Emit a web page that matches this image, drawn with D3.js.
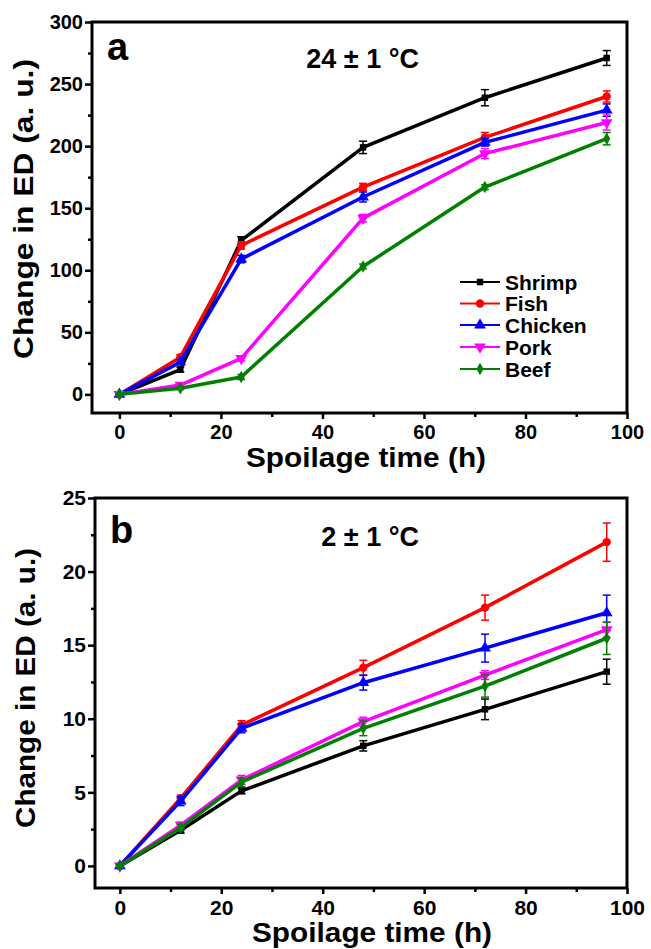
<!DOCTYPE html>
<html>
<head>
<meta charset="utf-8">
<script src="https://cdn.jsdelivr.net/npm/d3@7"></script>
<style>
  body { margin: 0; background: #fff; }
  text { font-family: "Liberation Sans", Arial, sans-serif; font-weight: bold; }
</style>
</head>
<body>
<div id="chart"></div>
<script>
const hours = [0, 12, 24, 48, 72, 96];
const names = ["Shrimp", "Fish", "Chicken", "Pork", "Beef"];
const colors = ["#000000", "#ff0000", "#0000ff", "#ff00ff", "#008000"];

// 24 ± 1 °C
const warmShrimp = [0, 20, 124, 199, 239, 271];
const warmFish = [0, 30, 120, 167, 207, 240];
const warmChicken = [0, 26, 109, 159, 203, 229];
const warmPork = [0, 7.5, 29, 142, 194, 219];
const warmBeef = [0, 5, 14, 103, 167, 206];
const warmShrimpErr = [1, 2, 3, 5, 6.5, 6];
const warmFishErr = [1, 2, 3, 3, 4, 4.5];
const warmChickenErr = [1, 2, 3, 4, 3, 5];
const warmPorkErr = [1, 1, 2, 3, 4, 6];
const warmBeefErr = [1, 1, 2, 2, 2, 5];

// 2 ± 1 °C
const coldShrimp = [0, 2.43, 5.1, 8.16, 10.64, 13.2];
const coldFish = [0, 4.6, 9.57, 13.47, 17.55, 22.0];
const coldChicken = [0, 4.4, 9.35, 12.45, 14.8, 17.2];
const coldPork = [0, 2.77, 5.85, 9.8, 12.97, 16.05];
const coldBeef = [0, 2.6, 5.7, 9.35, 12.22, 15.47];
const coldShrimpErr = [0.1, 0.2, 0.2, 0.35, 0.7, 0.85];
const coldFishErr = [0.1, 0.2, 0.3, 0.5, 0.85, 1.3];
const coldChickenErr = [0.1, 0.3, 0.3, 0.5, 0.95, 1.2];
const coldPorkErr = [0.1, 0.2, 0.3, 0.3, 0.3, 0.5];
const coldBeefErr = [0.1, 0.2, 0.3, 0.5, 0.75, 1.1];

const xTicks = [0, 20, 40, 60, 80, 100];
const xMinor = [10, 30, 50, 70, 90];
const warmTicks = [0, 50, 100, 150, 200, 250, 300];
const warmMinor = [25, 75, 125, 175, 225, 275];
const coldTicks = [0, 5, 10, 15, 20, 25];
const coldMinor = [2.5, 7.5, 12.5, 17.5, 22.5];

const symbols = [
  {type: d3.symbolSquare, size: 42, rot: 0},
  {type: d3.symbolCircle, size: 55, rot: 0},
  {type: d3.symbolTriangle, size: 60, rot: 0},
  {type: d3.symbolTriangle, size: 60, rot: 180},
  {type: d3.symbolDiamond, size: 45, rot: 0}
];

const svg = d3.select('#chart').append('svg')
  .attr('width', 651)
  .attr('height', 949);

function drawPanel(p) {
  const x = d3.scaleLinear().domain(p.xDomain).range([p.left, p.right]);
  const y = d3.scaleLinear().domain(p.yDomain).range([p.bottom, p.top]);
  const g = svg.append('g');

  // minor ticks
  g.append('g')
    .attr('transform', `translate(0,${p.bottom})`)
    .call(d3.axisBottom(x).tickValues(xMinor).tickSize(4).tickFormat(''))
    .call(a => a.select('.domain').remove());
  g.append('g')
    .attr('transform', `translate(${p.left},0)`)
    .call(d3.axisLeft(y).tickValues(p.yMinor).tickSize(4).tickFormat(''))
    .call(a => a.select('.domain').remove());

  const xa = g.append('g')
    .attr('transform', `translate(0,${p.bottom})`)
    .call(d3.axisBottom(x).tickValues(xTicks).tickSize(6).tickPadding(p.xPad));
  const ya = g.append('g')
    .attr('transform', `translate(${p.left},0)`)
    .call(d3.axisLeft(y).tickValues(p.yTicks).tickSize(7).tickPadding(2));
  [xa, ya].forEach(a => {
    a.select('.domain').remove();
    a.selectAll('text')
      .attr('fill', '#000')
      .style('font-family', '"Liberation Sans", Arial, sans-serif')
      .style('font-weight', 'bold')
      .style('font-size', p.tickFont + 'px');
  });
  g.selectAll('.tick line').attr('stroke', '#000').attr('stroke-width', 2.5);

  g.append('rect')
    .attr('x', p.left).attr('y', p.top)
    .attr('width', p.right - p.left).attr('height', p.bottom - p.top)
    .attr('fill', 'none').attr('stroke', '#000').attr('stroke-width', 3);

  const line = d3.line().x((d, i) => x(hours[i])).y(d => y(d));

  p.series.forEach((vals, k) => {
    const c = colors[k];
    const s = g.append('g');
    s.append('path')
      .datum(vals)
      .attr('d', line)
      .attr('fill', 'none')
      .attr('stroke', c)
      .attr('stroke-width', 3.5)
      .attr('stroke-linejoin', 'round');
    const errs = p.errors[k];
    const eb = s.selectAll('.eb').data(vals).enter().append('g');
    eb.append('line')
      .attr('x1', (d, i) => x(hours[i])).attr('x2', (d, i) => x(hours[i]))
      .attr('y1', (d, i) => y(d - errs[i])).attr('y2', (d, i) => y(d + errs[i]))
      .attr('stroke', c).attr('stroke-width', 1.5);
    [-1, 1].forEach(sg => {
      eb.append('line')
        .attr('x1', (d, i) => x(hours[i]) - 4).attr('x2', (d, i) => x(hours[i]) + 4)
        .attr('y1', (d, i) => y(d + sg * errs[i])).attr('y2', (d, i) => y(d + sg * errs[i]))
        .attr('stroke', c).attr('stroke-width', 1.5);
    });
    s.selectAll('.mk').data(vals).enter().append('path')
      .attr('d', d3.symbol().type(symbols[k].type).size(symbols[k].size))
      .attr('transform', (d, i) => `translate(${x(hours[i])},${y(d)}) rotate(${symbols[k].rot})`)
      .attr('fill', c);
  });

  // labels
  svg.append('text')
    .attr('x', p.left + 15).attr('y', p.letterY)
    .style('font-size', '38px')
    .text(p.letter);
  svg.append('text')
    .attr('x', 419).attr('y', p.tempY)
    .attr('text-anchor', 'end')
    .style('font-size', '27px')
    .text(p.temp);
  svg.append('text')
    .attr('x', p.xTitleX).attr('y', p.xTitleY)
    .attr('text-anchor', 'middle')
    .attr('textLength', 240).attr('lengthAdjust', 'spacingAndGlyphs')
    .style('font-size', '28px')
    .text('Spoilage time (h)');
  svg.append('text')
    .attr('transform', `translate(${p.yTitleX},${p.yTitleY}) rotate(-90)`)
    .attr('text-anchor', 'middle')
    .attr('textLength', p.yTitleLen).attr('lengthAdjust', 'spacingAndGlyphs')
    .style('font-size', '28px')
    .text('Change in ED (a. u.)');
  return {x, y};
}

drawPanel({
  left: 92, right: 627, top: 22, bottom: 413,
  xDomain: [-5.4, 100], yDomain: [-15, 300],
  yTicks: warmTicks, yMinor: warmMinor, tickFont: 20, xPad: 6,
  series: [warmShrimp, warmFish, warmChicken, warmPork, warmBeef],
  errors: [warmShrimpErr, warmFishErr, warmChickenErr, warmPorkErr, warmBeefErr],
  letter: 'a', letterY: 60, temp: '24 ± 1 °C', tempY: 68,
  xTitleX: 366, xTitleY: 467, yTitleX: 33, yTitleY: 209, yTitleLen: 300
});

drawPanel({
  left: 95, right: 627, top: 498, bottom: 888,
  xDomain: [-4.9, 100], yDomain: [-1.5, 25],
  yTicks: coldTicks, yMinor: coldMinor, tickFont: 21, xPad: 6,
  series: [coldShrimp, coldFish, coldChicken, coldPork, coldBeef],
  errors: [coldShrimpErr, coldFishErr, coldChickenErr, coldPorkErr, coldBeefErr],
  letter: 'b', letterY: 543, temp: '2 ± 1 °C', tempY: 546,
  xTitleX: 372, xTitleY: 942, yTitleX: 35, yTitleY: 688, yTitleLen: 280
});

// legend (panel a)
const legRows = [282, 303.5, 325, 347, 369];
const leg = svg.append('g');
names.forEach((n, k) => {
  leg.append('line')
    .attr('x1', 460).attr('x2', 500)
    .attr('y1', legRows[k]).attr('y2', legRows[k])
    .attr('stroke', colors[k]).attr('stroke-width', 2);
  leg.append('path')
    .attr('d', d3.symbol().type(symbols[k].type).size(symbols[k].size))
    .attr('transform', `translate(480,${legRows[k]}) rotate(${symbols[k].rot})`)
    .attr('fill', colors[k]);
  leg.append('text')
    .attr('x', 505).attr('y', legRows[k] + 7.5)
    .style('font-size', '21px')
    .text(n);
});
</script>
</body>
</html>
